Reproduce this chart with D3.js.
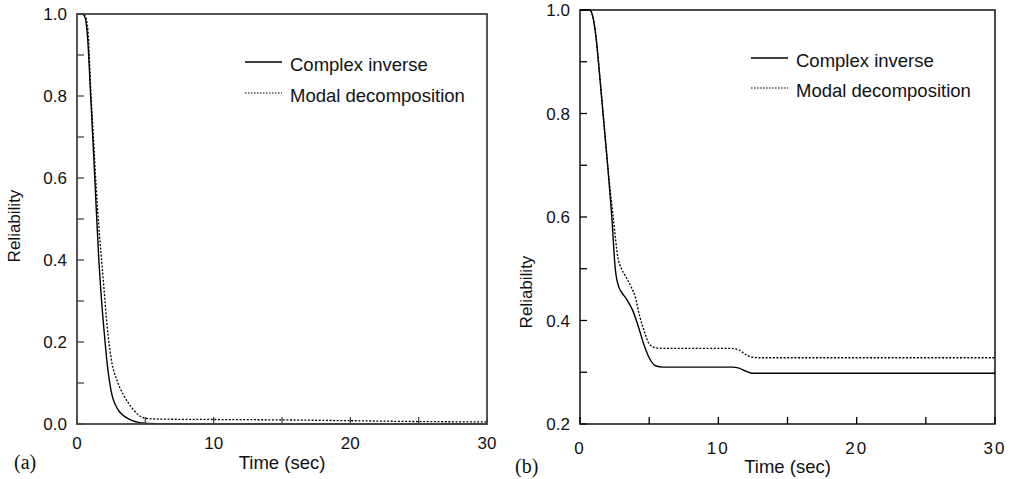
<!DOCTYPE html>
<html>
<head>
<meta charset="utf-8">
<script src="https://cdnjs.cloudflare.com/ajax/libs/d3/7.8.5/d3.min.js"></script>
<style>
  body { margin: 0; background: #fff; }
  #container { width: 1015px; height: 479px; }
  text { font-family: "Liberation Sans", Arial, sans-serif; fill: #111; }
  .panel-tag { font-family: "Liberation Serif", "Times New Roman", serif; }
</style>
</head>
<body>
<div id="container"></div>
<script>

// panel (a)
var timeA       = [0, 0.4, 0.6, 0.8, 1.0, 1.2, 1.4, 1.6, 1.8, 2.0, 2.2, 2.5, 3.0, 3.5, 4.0, 4.5, 5, 6, 10, 15, 20, 25, 30];
var complexA    = [1, 1, 0.99, 0.93, 0.80, 0.67, 0.53, 0.40, 0.30, 0.22, 0.15, 0.08, 0.035, 0.018, 0.009, 0.004, 0.002, 0.001, 0, 0, 0, 0, 0];
var modalA      = [1, 1, 0.995, 0.96, 0.82, 0.70, 0.58, 0.48, 0.40, 0.32, 0.24, 0.16, 0.10, 0.065, 0.04, 0.022, 0.014, 0.012, 0.011, 0.010, 0.008, 0.006, 0.005];

// panel (b)
var timeB       = [0, 0.7, 0.9, 1.1, 1.3, 1.5, 1.7, 2.0, 2.3, 2.55, 2.8, 3.0, 3.4, 3.8, 4.2, 4.6, 5.0, 5.5, 6, 11, 11.5, 12, 12.5, 13, 30];
var complexB    = [1, 1, 0.99, 0.96, 0.91, 0.85, 0.79, 0.70, 0.60, 0.50, 0.465, 0.455, 0.44, 0.42, 0.39, 0.355, 0.328, 0.312, 0.31, 0.31, 0.308, 0.302, 0.298, 0.298, 0.298];
var timeBm      = [0, 0.7, 0.9, 1.1, 1.3, 1.5, 1.7, 2.0, 2.4, 2.75, 3.0, 3.3, 3.7, 4.0, 4.3, 4.7, 5.0, 5.5, 6, 11, 11.5, 12, 12.5, 13, 30];
var modalB      = [1, 1, 0.99, 0.96, 0.91, 0.85, 0.79, 0.70, 0.60, 0.52, 0.50, 0.485, 0.465, 0.445, 0.41, 0.375, 0.355, 0.347, 0.346, 0.346, 0.343, 0.334, 0.329, 0.328, 0.328];

var xTicks      = [0, 10, 20, 30];
var yTicksA     = [0, 0.2, 0.4, 0.6, 0.8, 1.0];
var yTicksB     = [0.2, 0.4, 0.6, 0.8, 1.0];
var seriesNames = ['Complex inverse', 'Modal decomposition'];

var width = 1015, height = 479;

var svg = d3.select('#container')
	.append('svg')
	.attr('width', width)
	.attr('height', height);

svg.append('rect')
	.attr('width', width)
	.attr('height', height)
	.style('fill', '#fff');

function zip(t, v){
	return t.map(function(d, i){ return [d, v[i]]; });
}

function drawPanel(cfg){
	var x = d3.scaleLinear().domain([0, 30]).range([cfg.left, cfg.right]);
	var y = d3.scaleLinear().domain(cfg.yDomain).range([cfg.bottom, cfg.top]);
	var g = svg.append('g');

	var line = d3.line()
		.x(function(d){ return x(d[0]); })
		.y(function(d){ return y(d[1]); })
		.curve(d3.curveMonotoneX);

	// curves
	g.append('path')
		.datum(zip(cfg.t1, cfg.s1))
		.attr('d', line)
		.style('fill', 'none')
		.style('stroke', '#000')
		.style('stroke-width', 1.4);

	g.append('path')
		.datum(zip(cfg.t2, cfg.s2))
		.attr('d', line)
		.style('fill', 'none')
		.style('stroke', '#000')
		.style('stroke-width', 1.3)
		.style('stroke-dasharray', '2,1.6');

	// ticks every 0.1 / 5 sec, pointing inward
	var yMinor = d3.range(cfg.yDomain[0], cfg.yDomain[1] + 0.001, 0.1);
	g.selectAll('.ytick')
		.data(yMinor)
		.enter()
		.append('line')
		.attr('x1', cfg.left).attr('x2', cfg.left + 7)
		.attr('y1', function(d){ return y(d); })
		.attr('y2', function(d){ return y(d); })
		.style('stroke', cfg.axisColor)
		.style('stroke-width', 1.3);

	g.selectAll('.xtick')
		.data(d3.range(0, 31, 5))
		.enter()
		.append('line')
		.attr('x1', function(d){ return x(d); })
		.attr('x2', function(d){ return x(d); })
		.attr('y1', cfg.bottom).attr('y2', cfg.bottom - 7)
		.style('stroke', cfg.axisColor)
		.style('stroke-width', 1.3);

	// frame
	g.append('rect')
		.attr('x', cfg.left)
		.attr('y', cfg.top)
		.attr('width', cfg.right - cfg.left)
		.attr('height', cfg.bottom - cfg.top)
		.style('fill', 'none')
		.style('stroke', cfg.axisColor)
		.style('stroke-width', cfg.frameWidth);

	// tick labels
	g.selectAll('.ylab')
		.data(cfg.yTicks)
		.enter()
		.append('text')
		.attr('x', cfg.left - 10)
		.attr('y', function(d){ return y(d) + 6; })
		.attr('text-anchor', 'end')
		.style('font-size', '17px')
		.text(function(d){ return d3.format('.1f')(d); });

	g.selectAll('.xlab')
		.data(xTicks)
		.enter()
		.append('text')
		.attr('x', function(d){ return x(d); })
		.attr('y', cfg.bottom + cfg.xLabOffset)
		.attr('text-anchor', 'middle')
		.style('font-size', '17px')
		.style('letter-spacing', cfg.spacing)
		.text(function(d){ return d; });

	// axis titles
	g.append('text')
		.attr('x', (cfg.left + cfg.right) / 2)
		.attr('y', cfg.bottom + cfg.titleOffset)
		.attr('text-anchor', 'middle')
		.style('font-size', '18.5px')
		.text('Time (sec)');

	g.append('text')
		.attr('transform', 'translate(' + cfg.yTitleX + ',' + cfg.yTitleY + ') rotate(-90)')
		.attr('text-anchor', 'middle')
		.style('font-size', '17px')
		.text('Reliability');

	g.append('text')
		.attr('class', 'panel-tag')
		.attr('x', cfg.tagX)
		.attr('y', cfg.bottom + cfg.titleOffset)
		.style('font-size', '20px')
		.text(cfg.tag);

	// legend
	var legend = g.selectAll('.legend')
		.data(seriesNames)
		.enter()
		.append('g')
		.attr('transform', function(d, i){ return 'translate(' + cfg.legX + ',' + (cfg.legY + i * cfg.legGap) + ')'; });

	legend.append('line')
		.attr('x1', 0).attr('x2', 37)
		.attr('y1', 0).attr('y2', 0)
		.style('stroke', '#000')
		.style('stroke-width', function(d, i){ return i == 0 ? 1.4 : 1.1; })
		.style('stroke-dasharray', function(d, i){ return i == 0 ? null : '1.6,1.4'; });

	legend.append('text')
		.attr('x', 45)
		.attr('y', 9)
		.style('font-size', '18.5px')
		.text(function(d){ return d; });
}

drawPanel({
	left: 77, right: 487, top: 14, bottom: 424,
	yDomain: [0, 1], yTicks: yTicksA,
	t1: timeA, s1: complexA, t2: timeA, s2: modalA,
	axisColor: '#444', frameWidth: 1.8, spacing: '0px',
	xLabOffset: 25, titleOffset: 45,
	yTitleX: 20, yTitleY: 226,
	tag: '(a)', tagX: 14,
	legX: 245, legY: 62, legGap: 31
});

drawPanel({
	left: 580, right: 995, top: 10, bottom: 424,
	yDomain: [0.2, 1], yTicks: yTicksB,
	t1: timeB, s1: complexB, t2: timeBm, s2: modalB,
	axisColor: '#000', frameWidth: 1.4, spacing: '2px',
	xLabOffset: 30, titleOffset: 49,
	yTitleX: 532, yTitleY: 292,
	tag: '(b)', tagX: 515,
	legX: 751, legY: 58, legGap: 30
});

</script>
</body>
</html>
